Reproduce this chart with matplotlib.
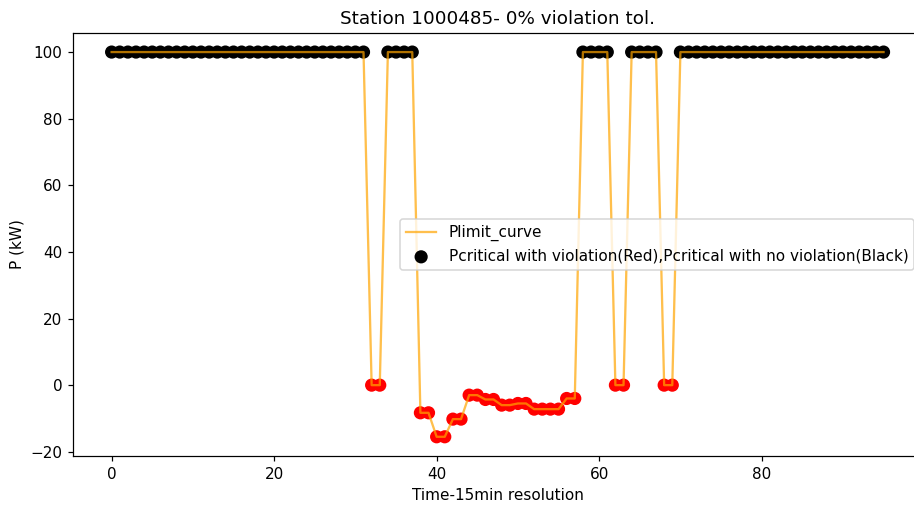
import numpy as np
import matplotlib
matplotlib.use('Agg')
from matplotlib import pyplot as plt

# Plimit per 15-min step (96 steps)
p_head = [100] * 32                       # 0-31
p_mid = [0, 0, 100, 100, 100, 100,        # 32-37
         -8.3, -8.3, -15.5, -15.5, -10.2, -10.2,   # 38-43
         -3.0, -3.0, -4.3, -4.3, -6.0, -6.0, -5.5, -5.5,  # 44-51
         -7.2, -7.2, -7.2, -7.2, -4.0, -4.0,       # 52-57
         100, 100, 100, 100, 0, 0,                 # 58-63
         100, 100, 100, 100, 0, 0]                 # 64-69
p_tail = [100] * 26                       # 70-95
plimit = np.array(p_head + p_mid + p_tail, dtype=float)
steps = np.arange(len(plimit))

# violation where the limit drops below 100
colors = ['red' if v < 100 else 'black' for v in plimit]

dpi = 110
fig = plt.figure(figsize=(914 / dpi, 505 / dpi), dpi=dpi)
ax = fig.add_axes([0.0799, 0.097, 0.929, 0.838])

ax.scatter(steps, plimit, c=colors, s=58, zorder=2,
           label='Pcritical with violation(Red),Pcritical with no violation(Black)')
ax.plot(steps, plimit, color='orange', alpha=0.7, zorder=3, label='Plimit_curve')

ax.set_title('Station 1000485- 0% violation tol.')
ax.set_xlabel('Time-15min resolution')
ax.set_ylabel('P (kW)')

h, l = ax.get_legend_handles_labels()
ax.legend(h[::-1], l[::-1], loc='center right')

fig.savefig('out.png', dpi=dpi)
